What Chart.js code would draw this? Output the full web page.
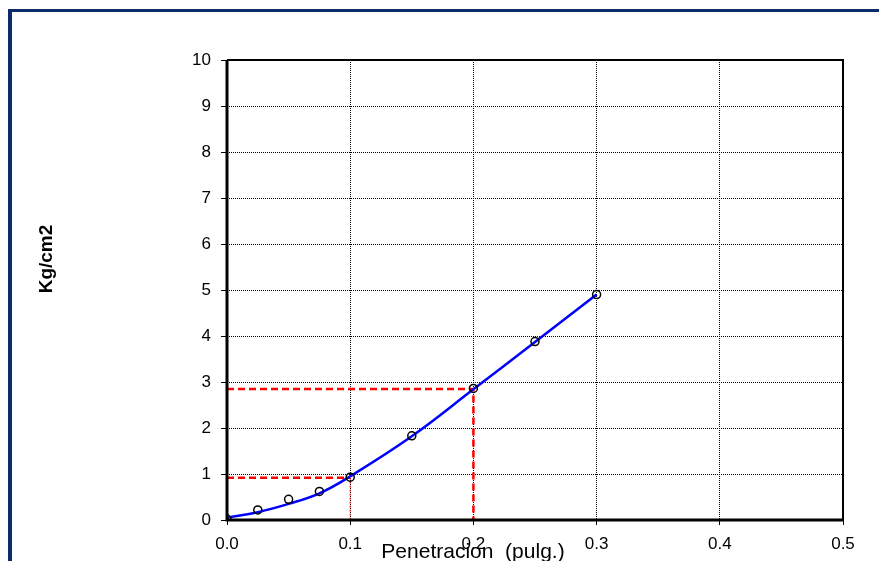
<!DOCTYPE html>
<html>
<head>
<meta charset="utf-8">
<script src="https://cdn.jsdelivr.net/npm/chart.js@4"></script>
<style>
  html, body { margin: 0; padding: 0; background: #fff; }
  canvas { display: block; }
</style>
</head>
<body>
<canvas id="cbr" width="879" height="561"></canvas>
<script>
// penetration readings (pulg.) and measured pressure (Kg/cm2)
const penetracion = [0, 0.025, 0.05, 0.075, 0.1, 0.15, 0.2, 0.25, 0.3];
const presion = [0.02, 0.22, 0.45, 0.62, 0.93, 1.83, 2.86, 3.88, 4.90];
// corrected curve through the readings
const curva = [0.05, 0.17, 0.35, 0.58, 0.95, 1.82, 2.84, 3.87, 4.90];
// pressures read at 0.1" and 0.2"
const lecturaX = [0.1, 0.2];
const lecturaY = [0.92, 2.85];

const xTicks = [0, 0.1, 0.2, 0.3, 0.4, 0.5];
const yTicks = [0, 1, 2, 3, 4, 5, 6, 7, 8, 9, 10];

const FONT = "'Liberation Sans', Arial, sans-serif";
const toXY = (xs, ys) => xs.map((x, i) => ({x: x, y: ys[i]}));

const frame = {
  id: "frame",
  beforeDraw(chart) {
    const ctx = chart.ctx;
    ctx.save();
    ctx.fillStyle = "#0c2b6b";
    ctx.fillRect(8, 9, 4, chart.height);
    ctx.fillRect(8, 9, chart.width, 3);
    ctx.restore();
  },
  afterDatasetsDraw(chart) {
    const a = chart.chartArea;
    const ctx = chart.ctx;
    ctx.save();
    ctx.strokeStyle = "#000";
    ctx.lineWidth = 2;
    ctx.beginPath();
    ctx.moveTo(a.left, a.top);
    ctx.lineTo(a.right, a.top);
    ctx.lineTo(a.right, a.bottom);
    ctx.stroke();
    ctx.lineWidth = 3;
    ctx.beginPath();
    ctx.moveTo(a.left, a.top);
    ctx.lineTo(a.left, a.bottom);
    ctx.lineTo(a.right, a.bottom);
    ctx.stroke();

    // axis titles
    ctx.fillStyle = "#000";
    ctx.font = "21px " + FONT;
    ctx.textAlign = "center";
    ctx.textBaseline = "alphabetic";
    ctx.fillText("Penetracion  (pulg.)", 473, 558);
    ctx.translate(52, 259);
    ctx.rotate(-Math.PI / 2);
    ctx.font = "bold 19px " + FONT;
    ctx.fillText("Kg/cm2", 0, 0);
    ctx.restore();
  }
};

const redLine = {
  borderColor: "#ff0000",
  borderWidth: 2.5,
  borderDash: [7, 4],
  pointRadius: 0,
  showLine: true,
  tension: 0,
  order: 3
};

new Chart(document.getElementById("cbr"), {
  type: "scatter",
  data: {
    datasets: [
      {
        data: toXY(penetracion, presion),
        pointRadius: 4,
        pointBorderWidth: 1.5,
        pointBorderColor: "#000",
        pointBackgroundColor: "rgba(255,255,255,0)",
        showLine: false,
        order: 0
      },
      {
        data: toXY(penetracion, curva),
        borderColor: "#0000ff",
        borderWidth: 2.5,
        pointRadius: 0,
        showLine: true,
        tension: 0.4,
        order: 1
      },
      Object.assign({}, redLine, {data: [{x: 0, y: lecturaY[0]}, {x: lecturaX[0], y: lecturaY[0]}]}),
      Object.assign({}, redLine, {data: [{x: lecturaX[0], y: lecturaY[0]}, {x: lecturaX[0], y: 0}], borderWidth: 1, borderDash: [2, 2]}),
      Object.assign({}, redLine, {data: [{x: 0, y: lecturaY[1]}, {x: lecturaX[1], y: lecturaY[1]}, {x: lecturaX[1], y: 0}]})
    ]
  },
  options: {
    responsive: false,
    animation: false,
    layout: { padding: { left: 0, top: 60, right: 36, bottom: 0 } },
    plugins: {
      legend: { display: false },
      tooltip: { enabled: false }
    },
    scales: {
      x: {
        type: "linear",
        min: 0,
        max: 0.5,
        afterBuildTicks: s => { s.ticks = xTicks.map(v => ({value: v})); },
        afterFit: s => { s.height = 41; },
        grid: { color: "#000", lineWidth: 1, tickLength: 5, tickColor: "#000" },
        border: { display: false, dash: [1, 1] },
        ticks: {
          color: "#000",
          padding: 9,
          font: { family: FONT, size: 17 },
          callback: v => v.toFixed(1)
        }
      },
      y: {
        min: 0,
        max: 10,
        afterBuildTicks: s => { s.ticks = yTicks.map(v => ({value: v})); },
        afterFit: s => { s.width = 227; },
        grid: { color: "#000", lineWidth: 1, tickLength: 6, tickColor: "#000" },
        border: { display: false, dash: [1, 1] },
        ticks: {
          color: "#000",
          padding: 10,
          font: { family: FONT, size: 17 }
        }
      }
    }
  },
  plugins: [frame]
});
</script>
</body>
</html>
